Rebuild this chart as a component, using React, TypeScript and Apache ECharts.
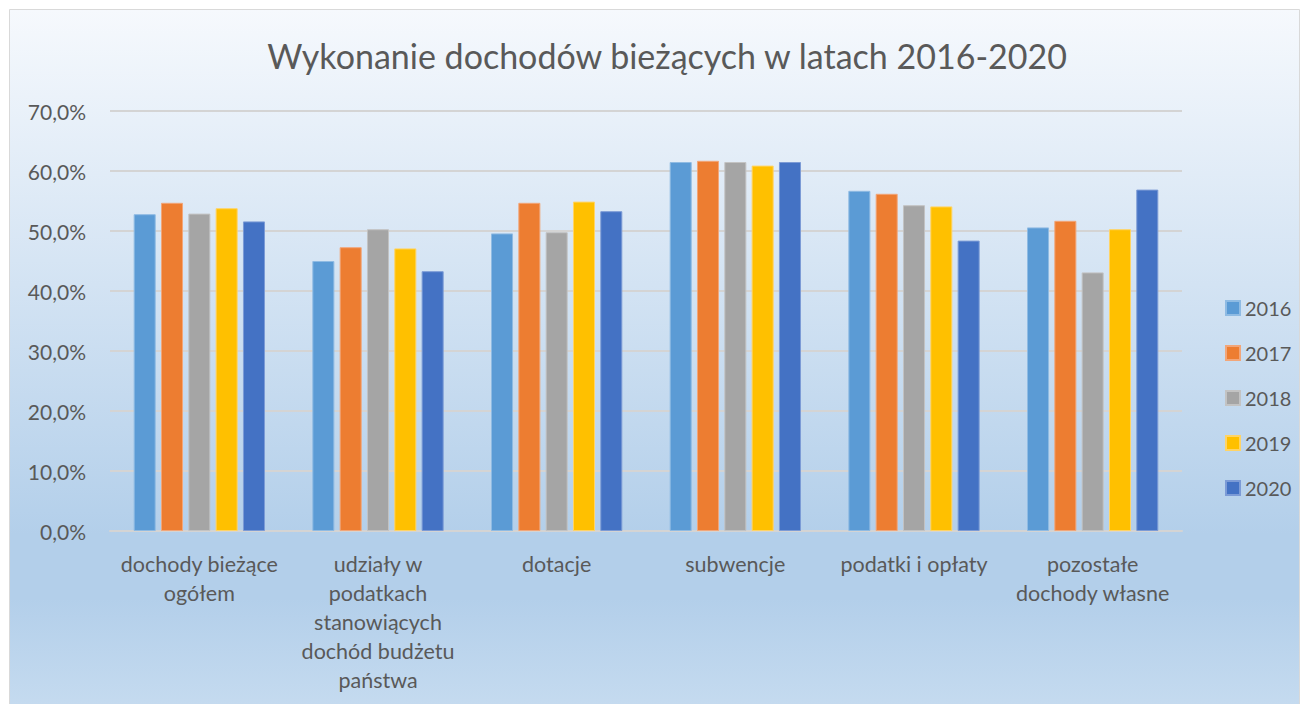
import React, { useEffect, useRef } from "react";
import * as echarts from "echarts";

const categories = [
  "dochody bieżące\nogółem",
  "udziały w\npodatkach\nstanowiących\ndochód budżetu\npaństwa",
  "dotacje",
  "subwencje",
  "podatki i opłaty",
  "pozostałe\ndochody własne",
];
const years = ["2016", "2017", "2018", "2019", "2020"];
const v2016 = [52.8, 45.0, 49.6, 61.5, 56.7, 50.6];
const v2017 = [54.7, 47.3, 54.7, 61.7, 56.2, 51.7];
const v2018 = [52.9, 50.3, 49.8, 61.5, 54.3, 43.1];
const v2019 = [53.8, 47.1, 54.9, 60.9, 54.1, 50.3];
const v2020 = [51.6, 43.3, 53.3, 61.5, 48.4, 56.9];
const seriesValues = [v2016, v2017, v2018, v2019, v2020];
const colors = ["#5b9bd5", "#ed7d31", "#a5a5a5", "#ffc000", "#4472c4"];
const borders = ["#8fbbe3", "#f2a679", "#c3c3c3", "#ffd466", "#7c9bd6"];

const FONT = "Lato";
const TEXT = "#595959";

export default function App() {
  const ref = useRef<HTMLDivElement>(null);
  useEffect(() => {
    if (!ref.current) return;
    const chart = echarts.init(ref.current, undefined, { renderer: "svg" });
    chart.setOption({
      animation: false,
      textStyle: { fontFamily: FONT },
      graphic: [
        {
          type: "rect",
          z: -10,
          silent: true,
          shape: { x: 9.5, y: 9.5, width: 1290, height: 710 },
          style: {
            fill: new echarts.graphic.LinearGradient(0, 0, 0, 1, [
              { offset: 0, color: "#f6f9fd" },
              { offset: 0.74, color: "#b3cfea" },
              { offset: 0.83, color: "#b3cfea" },
              { offset: 1, color: "#c7dcf0" },
            ]),
            stroke: "#d9d9d9",
            lineWidth: 1,
          },
        },
      ],
      title: {
        text: "Wykonanie dochodów bieżących w latach 2016-2020",
        left: 662,
        textAlign: "center",
        top: 33,
        textStyle: {
          color: TEXT,
          fontFamily: FONT,
          fontSize: 34,
          fontWeight: "normal",
        },
      },
      legend: {
        orient: "vertical",
        left: 1220,
        top: 293,
        itemWidth: 14,
        itemHeight: 14,
        itemGap: 25,
        icon: "rect",
        textStyle: { color: TEXT, fontSize: 20, fontFamily: FONT },
        data: years,
      },
      grid: { left: 110, right: 124, top: 111, bottom: 173 },
      xAxis: {
        type: "category",
        data: categories,
        axisLine: { lineStyle: { color: "#d4d4d4", width: 2 } },
        axisTick: { show: false },
        axisLabel: {
          color: TEXT,
          fontSize: 21.5,
          lineHeight: 29,
          margin: 18,
          interval: 0,
          fontFamily: FONT,
        },
      },
      yAxis: {
        type: "value",
        min: 0,
        max: 70,
        interval: 10,
        axisLine: { show: false },
        axisTick: { show: false },
        splitLine: { lineStyle: { color: "#d4d4d4", width: 2 } },
        axisLabel: {
          color: TEXT,
          fontSize: 21,
          margin: 24,
          fontFamily: FONT,
          formatter: (v: number) => v.toFixed(1).replace(".", ",") + "%",
        },
      },
      series: years.map((y, i) => ({
        name: y,
        type: "bar",
        data: seriesValues[i],
        barGap: "24%",
        barCategoryGap: "26.5%",
        itemStyle: { color: colors[i], borderColor: borders[i], borderWidth: 1 },
      })),
    });
    return () => chart.dispose();
  }, []);
  return (
    <div
      ref={ref}
      style={{ position: "absolute", left: 0, top: 0, width: 1306, height: 704 }}
    />
  );
}
